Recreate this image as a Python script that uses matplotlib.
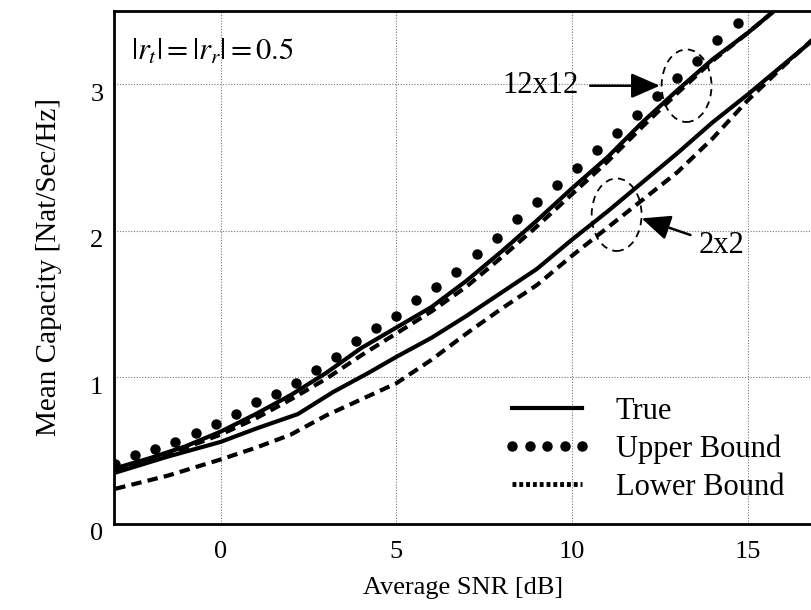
import matplotlib
matplotlib.use("Agg")
import matplotlib.pyplot as plt
from matplotlib.lines import Line2D
from matplotlib.patches import Ellipse
from matplotlib.transforms import ScaledTranslation

plt.rcParams['font.family'] = ['Liberation Serif', 'DejaVu Serif']
plt.rcParams['mathtext.fontset'] = 'stix'

# 12x12 channel
snr_12 = [-3, -2, -1, 0, 1, 2, 3, 4, 5, 6, 7, 8, 9, 10, 11, 12, 13, 14, 15, 16]
true_12 = [0.38, 0.45, 0.53, 0.63, 0.75, 0.88, 1.03, 1.20, 1.34, 1.48,
           1.66, 1.86, 2.07, 2.29, 2.50, 2.74, 2.96, 3.17, 3.35, 3.55]
lower_12 = [0.37, 0.44, 0.52, 0.61, 0.72, 0.85, 0.99, 1.15, 1.30, 1.45,
            1.62, 1.82, 2.03, 2.25, 2.47, 2.71, 2.94, 3.16, 3.35, 3.55]

# upper bound markers (12x12)
snr_ub = [-3.00, -2.43, -1.86, -1.29, -0.71, -0.14, 0.43, 1.00, 1.57, 2.14,
          2.71, 3.29, 3.86, 4.43, 5.00, 5.57, 6.14, 6.71, 7.29, 7.86,
          8.43, 9.00, 9.57, 10.14, 10.71, 11.29, 11.86, 12.43, 13.00, 13.57,
          14.14, 14.71]
upper_12 = [0.41, 0.47, 0.51, 0.56, 0.62, 0.68, 0.75, 0.83, 0.89, 0.96,
            1.05, 1.14, 1.25, 1.34, 1.42, 1.53, 1.62, 1.72, 1.84, 1.95,
            2.08, 2.20, 2.31, 2.43, 2.55, 2.67, 2.79, 2.92, 3.04, 3.16,
            3.30, 3.42]

# 2x2 channel
snr_2 = [-3, -1.5, 0, 1, 2.2, 3.2, 4.2, 5, 6, 7, 8, 9, 10, 11, 12, 13, 14, 15, 16, 17]
true_2 = [0.35, 0.46, 0.56, 0.65, 0.75, 0.90, 1.03, 1.14, 1.27, 1.42,
          1.58, 1.74, 1.94, 2.13, 2.33, 2.53, 2.74, 2.93, 3.13, 3.33]
snr_2l = [-3, -1.5, 0, 1, 2, 3, 4, 5, 6, 7, 8, 9, 10, 11, 12, 13, 14, 15, 16, 17]
lower_2 = [0.24, 0.33, 0.44, 0.52, 0.61, 0.74, 0.85, 0.96, 1.12, 1.30,
           1.47, 1.63, 1.83, 2.02, 2.21, 2.40, 2.63, 2.89, 3.12, 3.34]

LW = 3.0
DASH = (0, (2.5, 1.5))

fig = plt.figure(figsize=(8.12, 6.10), dpi=100)
ax = fig.add_axes([0.141, 0.141, 0.859, 0.841])

ax.plot(snr_12, true_12, color='black', lw=LW, solid_capstyle='butt')
ax.plot(snr_12, lower_12, color='black', lw=LW, linestyle=DASH)
ax.plot(snr_ub, upper_12, color='black', linestyle='none', marker='o', ms=6.5)
ax.plot(snr_2, true_2, color='black', lw=LW, solid_capstyle='butt')
ax.plot(snr_2l, lower_2, color='black', lw=LW, linestyle=DASH)

ax.set_xlim(-3.02, 16.83)
ax.set_ylim(0, 3.5)
ax.set_xticks([0, 5, 10, 15])
ax.set_yticks([0, 1, 2, 3])
ax.tick_params(length=0, labelsize=19)
ax.tick_params(axis='x', pad=12)
ax.tick_params(axis='y', pad=8)
# y tick labels sit a little below their gridlines in the original
for lbl in ax.get_yticklabels():
    lbl.set_transform(lbl.get_transform() + ScaledTranslation(0, -0.08, fig.dpi_scale_trans))
ax.grid(True, linestyle=(0, (1, 1.5)), color='#777777', lw=0.8)
ax.set_axisbelow(True)

for side in ['left', 'bottom', 'top']:
    ax.spines[side].set_linewidth(2.0)
ax.spines['right'].set_visible(False)

ax.set_xlabel('Average SNR [dB]', fontsize=19, labelpad=10)
ax.set_ylabel('Mean Capacity [Nat/Sec/Hz]', fontsize=21, labelpad=20)

# annotations
ax.text(-2.55, 3.22, r'$|r_t| = |r_r| = 0.5$', fontsize=22, va='center', ha='left')

ax.add_patch(Ellipse((13.26, 2.99), 1.42, 0.495, fill=False, ec='black',
                     lw=1.3, linestyle=(0, (4, 3))))
ax.add_patch(Ellipse((11.27, 2.11), 1.42, 0.495, fill=False, ec='black',
                     lw=1.3, linestyle=(0, (4, 3))))

ax.annotate('12x12', xy=(12.5, 2.99), xytext=(10.2, 2.99), fontsize=22,
            ha='right', va='center',
            arrowprops=dict(arrowstyle='-|>,head_length=0.8,head_width=0.35',
                            color='black', lw=1.8, shrinkA=6, shrinkB=0))
ax.annotate('2x2', xy=(11.98, 2.085), xytext=(13.6, 1.9), fontsize=22,
            ha='left', va='center',
            arrowprops=dict(arrowstyle='-|>,head_length=0.8,head_width=0.35',
                            color='black', lw=1.8, shrinkA=4, shrinkB=0))

handles = [
    Line2D([], [], color='black', lw=LW),
    Line2D([], [], color='black', linestyle='none', marker='o', ms=6.5),
    Line2D([], [], color='black', lw=3.5, linestyle=(0, (0.8, 0.6))),
]
ax.legend(handles, ['True', 'Upper Bound', 'Lower Bound'], loc='lower right',
          bbox_to_anchor=(1.0, -0.01), frameon=False, fontsize=22, numpoints=5,
          handlelength=2.9, handletextpad=0.8, labelspacing=0.28)

fig.savefig('out.png', dpi=100)
